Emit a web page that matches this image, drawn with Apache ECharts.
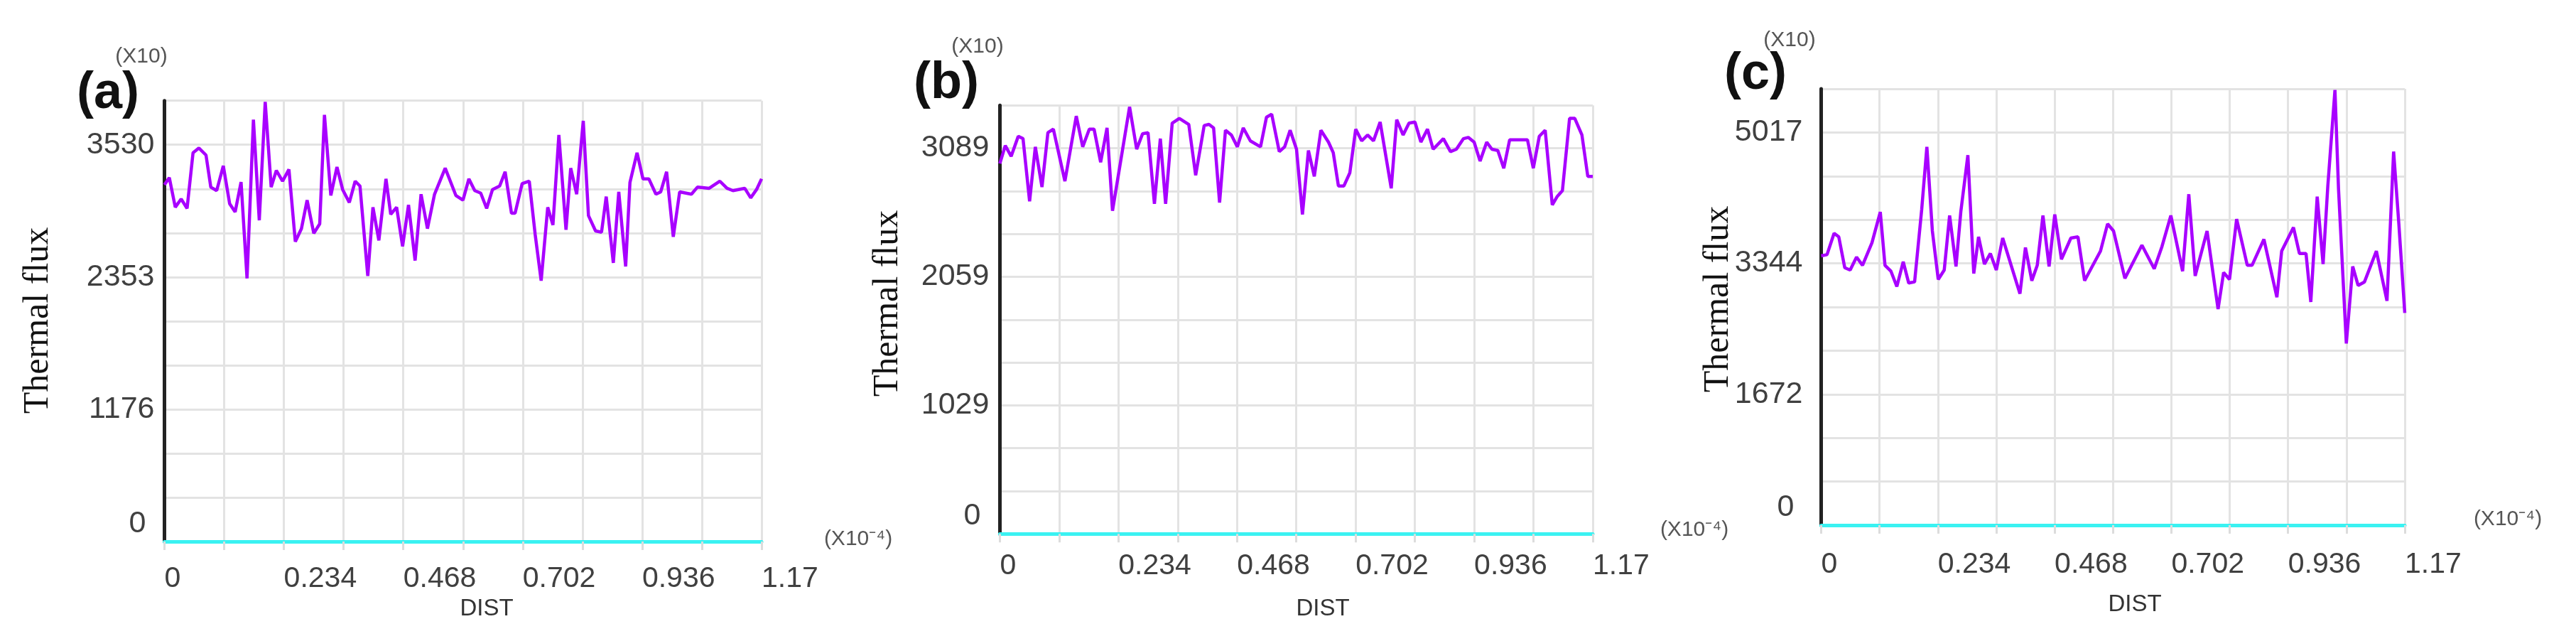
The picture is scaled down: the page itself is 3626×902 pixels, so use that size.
<!DOCTYPE html>
<html><head><meta charset="utf-8">
<script src="https://cdn.jsdelivr.net/npm/echarts/dist/echarts.min.js"></script>
<style>html,body{margin:0;padding:0;background:#fff}#c{width:3626px;height:902px}</style>
</head><body><div id="c"></div>
<script>
// ---------- data (DIST in units of 1e-4, flux in units of 10) ----------
const distA = [0,0.0095,0.0212,0.0327,0.0443,0.0560,0.0675,0.0814,0.0908,0.1023,
0.1153,0.1278,0.1385,0.1501,0.1618,0.1743,0.1858,0.1974,0.2091,0.2192,
0.2314,0.2439,0.2564,0.2684,0.2795,0.2926,0.3042,0.3135,0.3260,0.3380,
0.3491,0.3622,0.3737,0.3831,0.3984,0.4085,0.4201,0.4340,0.4434,0.4549,
0.4666,0.4782,0.4911,0.5028,0.5153,0.5292,0.5501,0.5710,0.5849,0.5965,
0.6080,0.6197,0.6313,0.6428,0.6568,0.6675,0.6800,0.6870,0.7009,0.7148,
0.7264,0.7381,0.7510,0.7612,0.7728,0.7868,0.7960,0.8077,0.8206,0.8308,
0.8447,0.8564,0.8656,0.8795,0.8902,0.9037,0.9121,0.9260,0.9376,0.9491,
0.9630,0.9724,0.9839,0.9970,1.0095,1.0326,1.0443,1.0674,1.0883,1.1022,
1.1139,1.1370,1.1487,1.1602,1.17];
const fluxA = [3174,3237,2974,3048,2964,3459,3501,3438,3153,3122,
3343,3005,2932,3199,2341,3754,2858,3912,3153,3301,
3206,3311,2668,2784,3037,2742,2826,3796,3079,3332,
3132,3016,3206,3163,2363,2974,2679,3227,2911,2974,
2626,2995,2500,3090,2784,3090,3322,3079,3037,3227,
3122,3100,2964,3132,3163,3290,2921,2921,3185,3206,
2731,2321,2974,2816,3617,2774,3322,3090,3743,2900,
2763,2752,3069,2479,3111,2447,3195,3459,3227,3227,
3090,3111,3290,2711,3111,3090,3153,3143,3206,3143,
3122,3143,3058,3132,3227];

const distB = [0,0.0107,0.0223,0.0363,0.0457,0.0587,0.0700,0.0831,0.0948,0.1056,
0.1284,0.1508,0.1635,0.1765,0.1859,0.1989,0.2115,0.2223,0.2560,0.2700,
0.2816,0.2924,0.3050,0.3167,0.3271,0.3401,0.3541,0.3728,0.3864,0.4032,
0.4126,0.4218,0.4336,0.4452,0.4569,0.4687,0.4803,0.4943,0.5144,0.5261,
0.5364,0.5514,0.5620,0.5728,0.5854,0.5971,0.6089,0.6205,0.6335,0.6485,
0.6579,0.6681,0.6789,0.6906,0.7022,0.7140,0.7256,0.7373,0.7504,0.7723,
0.7831,0.7957,0.8074,0.8191,0.8308,0.8438,0.8550,0.8752,0.8892,0.9008,
0.9149,0.9243,0.9359,0.9476,0.9607,0.9710,0.9826,0.9944,1.0060,1.0411,
1.0527,1.0645,1.0761,1.0901,1.0995,1.1101,1.1242,1.1345,1.1486,1.1602,
1.17];
const fluxB = [2967,3110,3024,3185,3166,2664,3100,2778,3214,3242,
2825,3347,3100,3242,3242,2977,3252,2588,3420,3081,
3205,3214,2644,3166,2644,3290,3328,3280,2872,3271,
3280,3252,2654,3233,3195,3100,3252,3148,3100,3337,
3362,3062,3100,3233,3081,2559,3071,2863,3233,3138,
3053,2787,2787,2892,3242,3148,3195,3148,3299,2768,
3318,3195,3290,3299,3138,3242,3081,3166,3062,3081,
3166,3176,3138,2986,3138,3081,3071,2929,3157,3157,
2929,3185,3233,2635,2701,2749,3328,3328,3195,2863,
2863];

const distC = [0,0.0117,0.0259,0.0353,0.0473,0.0581,0.0709,0.0829,0.1018,0.1185,
0.1279,0.1399,0.1517,0.1645,0.1755,0.1873,0.2015,0.2119,0.2229,0.2347,
0.2467,0.2575,0.2703,0.2799,0.2941,0.3059,0.3155,0.3273,0.3392,0.3511,
0.3639,0.3985,0.4095,0.4223,0.4332,0.4446,0.4569,0.4683,0.4817,0.5006,
0.5148,0.5281,0.5433,0.5600,0.5742,0.5861,0.6089,0.6430,0.6677,0.6833,
0.7010,0.7246,0.7370,0.7498,0.7736,0.7957,0.8068,0.8186,0.8329,0.8542,
0.8638,0.8876,0.9136,0.9232,0.9468,0.9588,0.9720,0.9816,0.9944,1.0062,
1.0157,1.0300,1.0371,1.0528,1.0656,1.0764,1.0892,1.1130,1.1343,1.1476,
1.1581,1.17];
const fluxC = [3441,3456,3729,3683,3289,3259,3425,3320,3607,4001,
3320,3244,3048,3366,3093,3108,4031,4833,3759,3139,
3259,3956,3305,4001,4727,3214,3683,3335,3471,3259,
3668,2957,3547,3123,3320,3956,3305,3970,3396,3668,
3683,3123,3305,3502,3849,3759,3153,3577,3275,3562,
3956,3244,4228,3184,3759,2760,3229,3139,3910,3320,
3320,3653,2912,3502,3804,3471,3471,2851,4197,3335,
4333,5560,4303,2321,3305,3062,3108,3502,2866,4773,
3849,2712];

const xTickLabels = ['0','0.234','0.468','0.702','0.936','1.17'];
const yTicksA = ['0','1176','2353','3530'];
const yTicksB = ['0','1029','2059','3089'];
const yTicksC = ['0','1672','3344','5017'];
const yStepA = 392.22, yStepB = 343.22, yStepC = 557.44;
const panelLabels = ['(a)','(b)','(c)'];
const yName = 'Thermal flux';
const xName = 'DIST';
const yUnit = '(X10)';
const xUnit = '(X10\u207B\u2074)';

// ---------- layout ----------
const grids = [
  {left:231.5, top:141.7, width:840.5, height:620.3},
  {left:1407.4, top:148.3, width:834.6, height:603},
  {left:2563.5, top:125, width:821.5, height:614}
];
const xStep = 0.117;
const sans = 'Liberation Sans';
const labelColor = '#404040';
const gridColor = '#e3e3e3';

function xAxisCfg(i, margin){
  return {
    type:'value', gridIndex:i, min:0, max:1.17, interval:xStep,
    axisLine:{show:true, onZero:false, lineStyle:{color:'#3af2f2', width:5}},
    axisTick:{show:true, length:12, lineStyle:{color:'#dcdcdc', width:3}},
    splitLine:{show:true, lineStyle:{color:gridColor, width:3}},
    axisLabel:{
      show:true, showMinLabel:true, showMaxLabel:true, hideOverlap:false,
      align:'left', margin:margin, fontSize:41, fontFamily:sans, color:labelColor,
      formatter:function(v){ const k=Math.round(v/xStep); return k%2===0 ? (xTickLabels[k/2]||'') : ''; }
    }
  };
}
function yAxisCfg(i, step, labels, margin){
  return {
    type:'value', gridIndex:i, min:0, max:step*10, interval:step,
    axisLine:{show:true, onZero:false, lineStyle:{color:'#222', width:5}},
    axisTick:{show:false},
    splitLine:{show:true, lineStyle:{color:gridColor, width:3}},
    axisLabel:{
      show:true, showMinLabel:true, showMaxLabel:true, hideOverlap:false,
      margin:margin, fontSize:43, fontFamily:sans, color:labelColor,
      rich:{z:{fontSize:43, fontFamily:sans, color:labelColor, padding:[0,12,50,0]}},
      formatter:function(v){ const k=Math.round(v/step); if(k%3!==0) return ''; if(k===0) return '{z|'+labels[0]+'}'; return labels[k/3]||''; }
    }
  };
}
function zip(xs, ys){ return xs.map((x,j)=>[x, ys[j]]); }
function lineSeries(i, xs, ys){
  return {type:'line', xAxisIndex:i, yAxisIndex:i, data:zip(xs,ys), symbol:'none', showSymbol:false,
    lineStyle:{color:'#a800ff', width:4.5}, animation:false, z:5};
}
function txt(text, x, y, size, opts){
  opts = opts||{};
  return {type:'text', x:x, y:y, rotation:opts.rot||0, z:10,
    style:{text:text, fontSize:size, fontFamily:opts.family||sans, fontWeight:opts.weight||'normal',
      fill:opts.color||'#333', align:'center', verticalAlign:'middle'}};
}

const option = {
  backgroundColor:'#ffffff',
  animation:false,
  grid: grids,
  xAxis:[xAxisCfg(0,32), xAxisCfg(1,25), xAxisCfg(2,35)],
  yAxis:[yAxisCfg(0,yStepA,yTicksA,14), yAxisCfg(1,yStepB,yTicksB,15), yAxisCfg(2,yStepC,yTicksC,26)],
  series:[lineSeries(0,distA,fluxA), lineSeries(1,distB,fluxB), lineSeries(2,distC,fluxC)],
  graphic:[
    txt(panelLabels[0], 152, 132, 72, {weight:'bold', color:'#111'}),
    txt(panelLabels[1], 1332, 118, 72, {weight:'bold', color:'#111'}),
    txt(panelLabels[2], 2471, 105, 72, {weight:'bold', color:'#111'}),
    txt(yUnit, 199, 80, 30, {color:'#555'}),
    txt(yUnit, 1376, 66, 30, {color:'#555'}),
    txt(yUnit, 2519, 57, 30, {color:'#555'}),
    txt(xUnit, 1208, 759, 30, {color:'#555'}),
    txt(xUnit, 2385, 746, 30, {color:'#555'}),
    txt(xUnit, 3530, 731, 30, {color:'#555'}),
    txt(xName, 685, 857, 33, {color:'#333'}),
    txt(xName, 1862, 857, 33, {color:'#333'}),
    txt(xName, 3005, 851, 33, {color:'#333'}),
    txt(yName, 54, 451, 50, {rot:Math.PI/2, family:'Liberation Serif', color:'#111'}),
    txt(yName, 1250, 427, 50, {rot:Math.PI/2, family:'Liberation Serif', color:'#111'}),
    txt(yName, 2419, 421, 50, {rot:Math.PI/2, family:'Liberation Serif', color:'#111'})
  ]
};
const chart = echarts.init(document.getElementById('c'), null, {renderer:'canvas'});
chart.setOption(option);
</script>
</body></html>
